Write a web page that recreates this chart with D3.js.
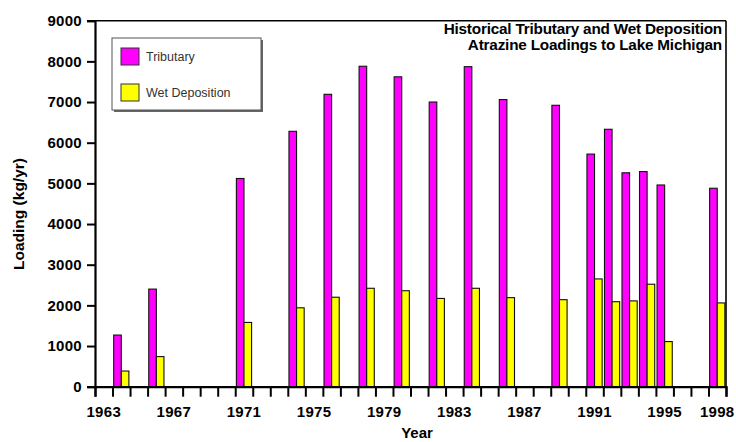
<!DOCTYPE html>
<html>
<head>
<meta charset="utf-8">
<script src="https://cdn.jsdelivr.net/npm/d3@7"></script>
<style>
  html, body { margin: 0; padding: 0; background: #fff; }
  svg { display: block; }
  text { font-family: "Liberation Sans", Arial, Helvetica, sans-serif; }
</style>
</head>
<body>
<svg id="chart" width="736" height="442"></svg>
<script>
// Atrazine loadings to Lake Michigan (kg/yr) by sampling year
const years = [1964, 1966, 1971, 1974, 1976, 1978, 1980, 1982, 1984, 1986, 1989, 1991, 1992, 1993, 1994, 1995, 1998];
const tributary = [1270, 2400, 5120, 6280, 7190, 7880, 7620, 7000, 7870, 7060, 6920, 5720, 6330, 5260, 5290, 4960, 4880];
const wetDeposition = [385, 740, 1580, 1940, 2200, 2420, 2360, 2170, 2420, 2190, 2140, 2650, 2090, 2110, 2520, 1110, 2060];

const yearLabels = [1963, 1967, 1971, 1975, 1979, 1983, 1987, 1991, 1995, 1998];
const yTicks = [0, 1000, 2000, 3000, 4000, 5000, 6000, 7000, 8000, 9000];
const seriesNames = ["Tributary", "Wet Deposition"];
const seriesColors = ["#ff00ff", "#ffff00"];
const titleLines = ["Historical Tributary and Wet Deposition", "Atrazine Loadings to Lake Michigan"];

const rows = years.map((yr, i) => ({ year: yr, values: [tributary[i], wetDeposition[i]] }));

const svg = d3.select("#chart");
const m = { left: 95, right: 726, top: 20.7, bottom: 386.7 };

// One band per calendar year; each year's bars sit in the middle of its band
const x = d3.scaleLinear().domain([1963, 1999]).range([m.left, m.right]);
const y = d3.scaleLinear().domain([0, 9000]).range([m.bottom, m.top]);
const barW = 7.6;

// Frame: top and right edges
svg.append("line").attr("x1", m.left).attr("x2", m.right).attr("y1", m.top).attr("y2", m.top)
  .attr("stroke", "#000").attr("stroke-width", 1.6);
svg.append("line").attr("x1", m.right).attr("x2", m.right).attr("y1", m.top).attr("y2", m.bottom)
  .attr("stroke", "#000").attr("stroke-width", 1.6);

// Bars
const groups = svg.append("g").selectAll("g").data(rows).join("g");
groups.selectAll("rect")
  .data(d => d.values.map((v, k) => ({ year: d.year, v, k })))
  .join("rect")
  .attr("x", d => x(d.year + 0.5) - barW + d.k * barW)
  .attr("width", barW)
  .attr("y", d => y(d.v))
  .attr("height", d => y(0) - y(d.v))
  .attr("fill", d => seriesColors[d.k])
  .attr("stroke", "#111")
  .attr("stroke-width", 1.1);

// Y axis
const yAxis = svg.append("g").attr("transform", `translate(${m.left},0)`)
  .call(d3.axisLeft(y).tickValues(yTicks).tickSize(8).tickPadding(5).tickFormat(d3.format("d")));
yAxis.select(".domain").attr("stroke", "#000").attr("stroke-width", 2.2);
yAxis.selectAll(".tick line").attr("stroke", "#000").attr("stroke-width", 2);
yAxis.selectAll(".tick text").attr("font-size", 15).attr("font-weight", "bold")
  .attr("fill", "#000").attr("letter-spacing", 0.3)
  .attr("font-family", "'Liberation Sans', Arial, sans-serif");

// X axis: a tick at every year boundary
const xAxis = svg.append("g").attr("transform", `translate(0,${m.bottom})`)
  .call(d3.axisBottom(x).tickValues(d3.range(1963, 2000)).tickSize(10).tickFormat(""));
xAxis.select(".domain").attr("stroke", "#000").attr("stroke-width", 2.2);
xAxis.selectAll(".tick line").attr("stroke", "#000").attr("stroke-width", 2);

// Year labels centred in their year band
svg.append("g").selectAll("text").data(yearLabels).join("text")
  .attr("x", d => x(d + 0.5))
  .attr("y", 417)
  .attr("text-anchor", "middle")
  .attr("font-size", 15).attr("font-weight", "bold").attr("letter-spacing", 0.3)
  .text(d => d);

// Axis titles
svg.append("text")
  .attr("transform", "translate(24,214) rotate(-90)")
  .attr("text-anchor", "middle")
  .attr("font-size", 15.5).attr("font-weight", "bold")
  .text("Loading (kg/yr)");
svg.append("text")
  .attr("x", 417).attr("y", 438)
  .attr("text-anchor", "middle")
  .attr("font-size", 15).attr("font-weight", "bold")
  .text("Year");

// Title, right aligned inside the frame
svg.append("g").selectAll("text").data(titleLines).join("text")
  .attr("x", 722)
  .attr("y", (d, i) => 34 + i * 16)
  .attr("text-anchor", "end")
  .attr("font-size", 15.3).attr("font-weight", "bold").attr("letter-spacing", -0.2)
  .text(d => d);

// Legend
const lg = svg.append("g");
lg.append("rect").attr("x", 114).attr("y", 40).attr("width", 149).attr("height", 72)
  .attr("fill", "#666");
lg.append("rect").attr("x", 112).attr("y", 38).attr("width", 149).attr("height", 72)
  .attr("fill", "#fff").attr("stroke", "#555").attr("stroke-width", 1);
seriesNames.forEach((name, i) => {
  const yy = 48 + i * 36;
  lg.append("rect").attr("x", 121).attr("y", yy).attr("width", 18).attr("height", 17)
    .attr("fill", seriesColors[i]).attr("stroke", "#333").attr("stroke-width", 1);
  lg.append("text").attr("x", 146).attr("y", yy + 13)
    .attr("font-size", 12.5).attr("fill", "#333")
    .text(name);
});
</script>
</body>
</html>
